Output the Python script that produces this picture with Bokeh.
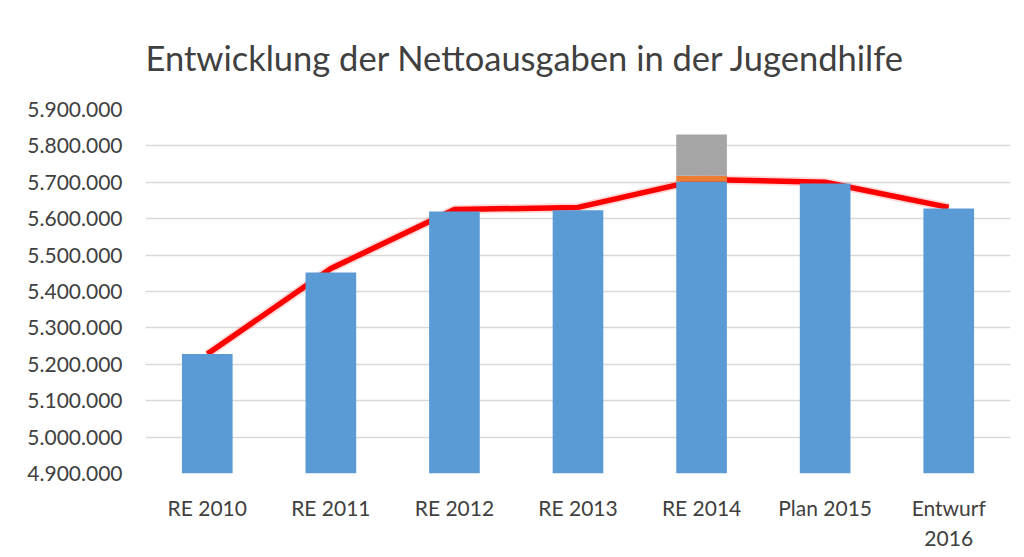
from bokeh.plotting import figure
from bokeh.models import FixedTicker, CustomJSTickFormatter, Range1d, FactorRange
from bokeh.embed import file_html
from bokeh.resources import INLINE

categories = ["RE 2010", "RE 2011", "RE 2012", "RE 2013", "RE 2014", "Plan 2015", "Entwurf\n2016"]
basis = [5228000, 5452000, 5620000, 5623000, 5702000, 5697000, 5628000]
zusatz1 = [0, 0, 0, 0, 16000, 0, 0]
zusatz2 = [0, 0, 0, 0, 113000, 0, 0]
linie = [5228000, 5463000, 5625000, 5631000, 5708000, 5700000, 5631000]
y_ticks = [4900000, 5000000, 5100000, 5200000, 5300000, 5400000, 5500000, 5600000, 5700000, 5800000, 5900000]

FONT = "Lato"

p = figure(x_range=FactorRange(*categories, range_padding=0), y_range=Range1d(4900000, 5900000),
           width=1024, height=557, output_backend="svg", toolbar_location=None,
           min_border_left=145, min_border_right=14, min_border_top=109, min_border_bottom=84)

p.title.text = "Entwicklung der Nettoausgaben in der Jugendhilfe"
p.title.text_font = FONT
p.title.text_font_size = "34.5px"
p.title.text_font_style = "normal"
p.title.text_color = "#404040"
p.title.align = "left"
p.title.standoff = 63

p.outline_line_color = None

# red line (behind bars)
p.line(categories, linie, line_color="#ff0000", line_width=9, line_alpha=0.15)
p.line(categories, linie, line_color="#ff0000", line_width=5.5)

data = {"cat": categories, "basis": basis, "zusatz1": zusatz1, "zusatz2": zusatz2}
p.vbar_stack(["basis", "zusatz1", "zusatz2"], x="cat", width=0.41, source=data,
             color=["#5b9bd5", "#ed7d31", "#a5a5a5"], line_color=None)

p.yaxis.ticker = FixedTicker(ticks=y_ticks)
p.yaxis.formatter = CustomJSTickFormatter(code="""
return Math.round(tick).toString().replace(/\\B(?=(\\d{3})+(?!\\d))/g, ".");
""")
for ax in (p.xaxis[0], p.yaxis[0]):
    ax.axis_line_color = None
    ax.major_tick_line_color = None
    ax.minor_tick_line_color = None
    ax.major_label_text_font = FONT
    ax.major_label_text_font_size = "21px"
    ax.major_label_text_color = "#404040"
p.yaxis.major_label_standoff = 17
p.xaxis.major_label_standoff = 15

p.xgrid.grid_line_color = None
p.ygrid.grid_line_color = "#d9d9d9"
p.ygrid.grid_line_width = 1.5

open("out.html", "w").write(file_html(p, INLINE))
